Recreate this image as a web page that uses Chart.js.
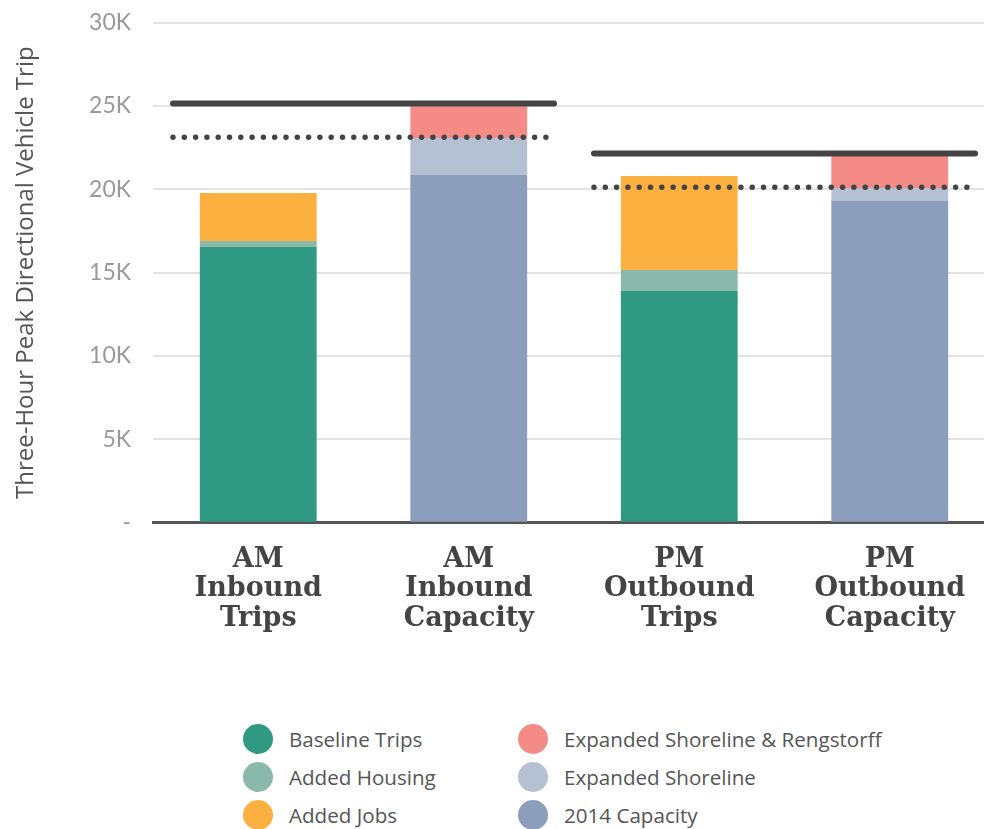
<!DOCTYPE html>
<html>
<head>
<meta charset="utf-8">
<script src="https://cdn.jsdelivr.net/npm/chart.js@4.4.0/dist/chart.umd.min.js"></script>
<style>
  html, body { margin: 0; padding: 0; background: #fff; overflow: hidden; }
  #wrap { position: absolute; left: 0; top: 0; width: 996px; height: 680px; }
  #legend {
    position: absolute; left: 243px; top: 720px;
    display: grid; grid-template-columns: 275px 400px; grid-auto-flow: column;
    grid-template-rows: repeat(3, 38px);
    font-family: "Open Sans", sans-serif; font-size: 20.6px; color: #555;
  }
  .item { display: flex; align-items: center; }
  .dot { width: 30px; height: 30px; border-radius: 50%; margin-right: 16px; flex: none; }
</style>
</head>
<body>
<div id="wrap"><canvas id="myChart" width="996" height="680"></canvas></div>
<div id="legend"></div>
<script>
// categories
var labels = [
  ['AM', 'Inbound', 'Trips'],
  ['AM', 'Inbound', 'Capacity'],
  ['PM', 'Outbound', 'Trips'],
  ['PM', 'Outbound', 'Capacity'],
];

// series values (thousands of trips)
var baselineTrips = [16.54, null, 13.90, null];
var addedHousing  = [0.36, null, 1.26, null];
var addedJobs     = [2.88, null, 5.64, null];
var capacity2014  = [null, 20.86, null, 19.30];
var expShoreline  = [null, 2.22, null, 0.78];
var expShoreRengs = [null, 2.02, null, 2.02];

// reference lines: [AM, PM]
var solidLevels  = [25.15, 22.15];
var dottedLevels = [23.12, 20.13];
var lineSpans = [[-0.405, 1.405], [1.595, 3.405]];

var yTicks = [0, 5, 10, 15, 20, 25, 30];

var barSets = [
  {label: 'Baseline Trips', data: baselineTrips, backgroundColor: '#2f9982'},
  {label: 'Added Housing', data: addedHousing, backgroundColor: '#8ab8aa'},
  {label: 'Added Jobs', data: addedJobs, backgroundColor: '#fbb040'},
  {label: '2014 Capacity', data: capacity2014, backgroundColor: '#8c9ebb'},
  {label: 'Expanded Shoreline', data: expShoreline, backgroundColor: '#b5c0d2'},
  {label: 'Expanded Shoreline & Rengstorff', data: expShoreRengs, backgroundColor: '#f58b87'},
];

var datasets = barSets.map(function (d) {
  return {
    type: 'bar', label: d.label, data: d.data, backgroundColor: d.backgroundColor,
    stack: 'bars', grouped: false, categoryPercentage: 1, barPercentage: 0.555, borderWidth: 0
  };
});

function refLine(level, span, dotted, n) {
  return {
    type: 'line', label: 'ref' + n, xAxisID: 'xl', stack: 'ref' + n, order: -1,
    data: [{x: span[0], y: level}, {x: span[1], y: level}],
    borderColor: '#444', borderWidth: dotted ? 5.5 : 6,
    borderDash: dotted ? [0, 11.3] : [], borderCapStyle: 'round',
    pointRadius: 0, fill: false
  };
}
for (var i = 0; i < 2; i++) {
  datasets.push(refLine(solidLevels[i], lineSpans[i], false, 's' + i));
  datasets.push(refLine(dottedLevels[i], lineSpans[i], true, 'd' + i));
}

var config = {
  type: 'bar',
  data: {labels: labels, datasets: datasets},
  options: {
    responsive: false,
    animation: false,
    layout: {padding: {top: 22.7, right: 1, left: 0, bottom: 0}},
    plugins: {legend: {display: false}, tooltip: {enabled: false}},
    scales: {
      x: {
        stacked: true,
        grid: {display: false, drawTicks: false},
        border: {display: true, color: '#555', width: 3},
        ticks: {
          color: '#444', padding: 22,
          font: {family: 'DejaVu Serif', weight: 'bold', size: 27, lineHeight: 1.1}
        },
        afterFit: function (s) { s.height = 157.3; }
      },
      xl: {
        type: 'linear', display: false, offset: false, min: -0.5, max: 3.5
      },
      y: {
        stacked: true, min: 0, max: 30,
        afterBuildTicks: function (s) { s.ticks = yTicks.map(function (v) { return {value: v}; }); },
        grid: {color: '#e3e3e3', lineWidth: 2, drawTicks: false},
        border: {display: false},
        ticks: {
          color: '#999', padding: 22,
          font: {family: 'Lato', size: 23},
          callback: function (v) { return v === 0 ? '-' : v + 'K'; }
        },
        title: {
          display: true, text: 'Three-Hour Peak Directional Vehicle Trip',
          color: '#555', font: {family: 'Open Sans', size: 24}, padding: {top: 12}
        },
        afterFit: function (s) { s.width = 153; s.paddingTop = 0; s.paddingBottom = 0; }
      }
    }
  }
};

var ctx = document.getElementById('myChart');
var myChart = new Chart(ctx, config);

// html legend, two columns
var legendOrder = [0, 1, 2, 5, 4, 3];
var legend = document.getElementById('legend');
legendOrder.forEach(function (k) {
  var d = barSets[k];
  var item = document.createElement('div');
  item.className = 'item';
  item.innerHTML = '<span class="dot" style="background:' + d.backgroundColor + '"></span>' + d.label;
  legend.appendChild(item);
});
</script>
</body>
</html>
